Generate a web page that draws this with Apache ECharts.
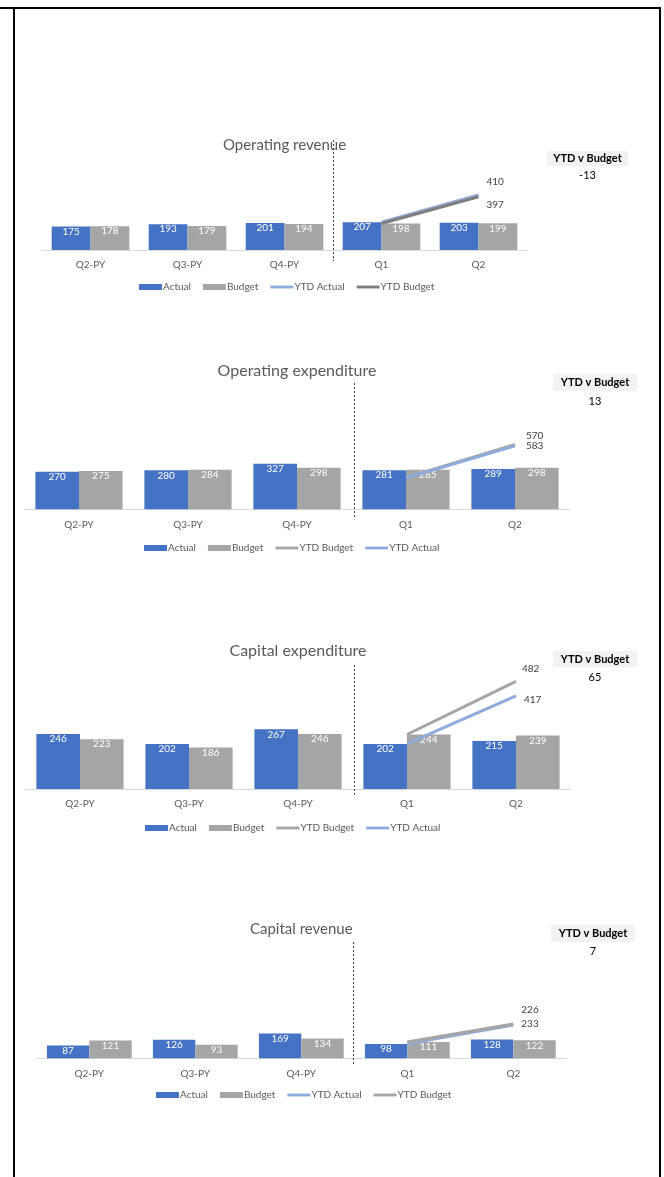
<!DOCTYPE html>
<html>
<head>
<meta charset="utf-8">
<script src="https://cdn.jsdelivr.net/npm/echarts@6/dist/echarts.min.js"></script>
<style>
  html, body { margin: 0; padding: 0; background: #ffffff; }
  #c { width: 664px; height: 1177px; }
</style>
</head>
<body>
<div id="c"></div>
<script>
// ---- data ----
const categories = ['Q2-PY', 'Q3-PY', 'Q4-PY', 'Q1', 'Q2'];

const opRevActual = [175, 193, 201, 207, 203];
const opRevBudget = [178, 179, 194, 198, 199];
const opRevYtdActual = [207, 410];
const opRevYtdBudget = [198, 397];

const opExActual = [270, 280, 327, 281, 289];
const opExBudget = [275, 284, 298, 285, 298];
const opExYtdActual = [281, 570];
const opExYtdBudget = [285, 583];

const capExActual = [246, 202, 267, 202, 215];
const capExBudget = [223, 186, 246, 244, 239];
const capExYtdActual = [202, 417];
const capExYtdBudget = [244, 482];

const capRevActual = [87, 126, 169, 98, 128];
const capRevBudget = [121, 93, 134, 111, 122];
const capRevYtdActual = [98, 226];
const capRevYtdBudget = [111, 233];

// ---- styling ----
const FONT = 'Lato, "Noto Sans", sans-serif';
const BLUE = '#4472c4';
const GREY = '#a5a5a5';
const LIGHT_BLUE = '#8faadc';
const TEXT = '#595959';
const LINE_ICON = 'path://M0,0H24V3H0Z';

const panels = [
  {
    title: 'Operating revenue', titleSize: 15, actual: opRevActual, budget: opRevBudget,
    ytdActual: opRevYtdActual, ytdBudget: opRevYtdBudget,
    order: ['Actual', 'Budget', 'YTD Actual', 'YTD Budget'], ytdBudgetColor: '#7f7f7f',
    grid: { left: 42, width: 485, top: 116, height: 134 }, max: 1000,
    titleY: 145, legendLeft: 139, legendY: 288,
    sep: { dx: -0.5, y1: 140, y2: 261 },
    labelOffset: { 'YTD Actual': [2, -13], 'YTD Budget': [2, 8] },
    box: { x: 547, y: 151, w: 81, h: 15, valueY: 175 }
  },
  {
    title: 'Operating expenditure', titleSize: 16, actual: opExActual, budget: opExBudget,
    ytdActual: opExYtdActual, ytdBudget: opExYtdBudget,
    order: ['Actual', 'Budget', 'YTD Budget', 'YTD Actual'], ytdBudgetColor: GREY,
    grid: { left: 24.5, width: 545, top: 398, height: 111.3 }, max: 800, lineMax: 1000,
    titleY: 371, legendLeft: 144, legendY: 549,
    sep: { dx: 2.5, y1: 383, y2: 517 },
    labelOffset: { 'YTD Actual': [5, -10], 'YTD Budget': [5, 1] },
    box: { x: 553, y: 374, w: 84, h: 17, valueY: 401 }
  },
  {
    title: 'Capital expenditure', titleSize: 16, actual: capExActual, budget: capExBudget,
    ytdActual: capExYtdActual, ytdBudget: capExYtdBudget,
    order: ['Actual', 'Budget', 'YTD Budget', 'YTD Actual'], ytdBudgetColor: GREY,
    grid: { left: 25.5, width: 545, top: 655, height: 134 }, max: 600,
    titleY: 651, legendLeft: 145, legendY: 829,
    sep: { dx: 1.5, y1: 665, y2: 797 },
    labelOffset: { 'YTD Actual': [2, 4], 'YTD Budget': [0, -13] },
    box: { x: 553, y: 651, w: 84, h: 16, valueY: 677 }
  },
  {
    title: 'Capital revenue', titleSize: 15, actual: capRevActual, budget: capRevBudget,
    ytdActual: capRevYtdActual, ytdBudget: capRevYtdBudget,
    order: ['Actual', 'Budget', 'YTD Actual', 'YTD Budget'], ytdBudgetColor: GREY,
    grid: { left: 36.3, width: 530, top: 911.3, height: 147 }, max: 1000,
    titleY: 929, legendLeft: 156, legendY: 1096,
    sep: { dx: -1.5, y1: 942, y2: 1066 },
    labelOffset: { 'YTD Actual': [2, -15], 'YTD Budget': [2, 0] },
    box: { x: 551, y: 925, w: 84, h: 17, valueY: 951 }
  }
];

const chart = echarts.init(document.getElementById('c'), null, { renderer: 'canvas' });

const grids = [], xAxes = [], yAxes = [], series = [], legends = [], graphics = [];

// frame around the page
graphics.push(
  { type: 'line', shape: { x1: 0, y1: 8, x2: 661, y2: 8 }, style: { stroke: '#000', lineWidth: 2 } },
  { type: 'line', shape: { x1: 14, y1: 8, x2: 14, y2: 1177 }, style: { stroke: '#000', lineWidth: 2 } },
  { type: 'line', shape: { x1: 660, y1: 8, x2: 660, y2: 1177 }, style: { stroke: '#000', lineWidth: 2 } }
);

// pad the two year-to-date points onto the Q1/Q2 slots
function ytdData(vals) {
  return new Array(categories.length - vals.length).fill(null).concat(vals);
}

panels.forEach((p, i) => {
  grids.push(Object.assign({ containLabel: false }, p.grid));
  xAxes.push({
    type: 'category', gridIndex: i, data: categories,
    axisLine: { lineStyle: { color: '#d9d9d9', width: 1 } },
    axisTick: { show: false },
    axisLabel: { fontSize: 10, color: TEXT, fontFamily: FONT, margin: 10 }
  });
  const yIdx = yAxes.length;
  yAxes.push({ type: 'value', gridIndex: i, min: 0, max: p.max, show: false });
  let lineY = yIdx;
  if (p.lineMax) {
    lineY = yAxes.length;
    yAxes.push({ type: 'value', gridIndex: i, min: 0, max: p.lineMax, show: false });
  }

  const barLabel = {
    show: true, position: 'insideTop', distance: 0,
    color: '#ffffff', fontSize: 10, fontFamily: FONT
  };
  const defs = {
    'Actual': { type: 'bar', data: p.actual, color: BLUE },
    'Budget': { type: 'bar', data: p.budget, color: GREY },
    'YTD Actual': { type: 'line', data: ytdData(p.ytdActual), color: LIGHT_BLUE },
    'YTD Budget': { type: 'line', data: ytdData(p.ytdBudget), color: p.ytdBudgetColor }
  };
  p.order.forEach((name, k) => {
    const d = defs[name];
    const s = { name: name + '#' + i, type: d.type, xAxisIndex: i, data: d.data, color: d.color };
    if (d.type === 'bar') {
      Object.assign(s, {
        yAxisIndex: yIdx, barGap: '0%', barCategoryGap: '20%',
        itemStyle: { color: d.color }, label: barLabel, z: 2
      });
    } else {
      Object.assign(s, {
        yAxisIndex: lineY, symbol: 'none', showSymbol: false,
        lineStyle: { color: d.color, width: 3 }, itemStyle: { color: d.color },
        z: 3 + k,
        endLabel: {
          show: true, fontSize: 10, fontFamily: FONT, color: '#404040',
          distance: 6, offset: p.labelOffset[name],
          formatter: (q) => String(q.value)
        }
      });
    }
    series.push(s);
  });

  legends.push({
    show: true, selectedMode: false, padding: 0,
    left: p.legendLeft, top: p.legendY - 6,
    itemWidth: 23, itemHeight: 6, itemGap: 12,
    symbolKeepAspect: true,
    textStyle: { fontSize: 10, color: TEXT, fontFamily: FONT, padding: [0, 0, 0, -4] },
    formatter: (n) => n.split('#')[0],
    data: p.order.map(n => ({ name: n + '#' + i, icon: n.indexOf('YTD') === 0 ? LINE_ICON : 'rect' }))
  });

  // panel title, centred over the plot
  graphics.push({
    type: 'text', x: p.grid.left + p.grid.width / 2, y: p.titleY,
    style: { text: p.title, fill: TEXT, fontSize: p.titleSize, fontFamily: FONT, align: 'center', verticalAlign: 'middle' }
  });

  // year-to-date variance box
  const variance = p.ytdBudget[p.ytdBudget.length - 1] - p.ytdActual[p.ytdActual.length - 1];
  const b = p.box;
  graphics.push(
    { type: 'rect', shape: { x: b.x, y: b.y, width: b.w, height: b.h }, style: { fill: '#f2f2f2' } },
    { type: 'text', x: b.x + b.w / 2, y: b.y + b.h / 2,
      style: { text: 'YTD v Budget', fill: '#000', fontSize: 11, fontWeight: 'bold', fontFamily: FONT, align: 'center', verticalAlign: 'middle' } },
    { type: 'text', x: b.x + b.w / 2, y: b.valueY,
      style: { text: String(variance), fill: '#000', fontSize: 11, fontFamily: FONT, align: 'center', verticalAlign: 'middle' } }
  );
});

chart.setOption({
  animation: false,
  backgroundColor: '#ffffff',
  textStyle: { fontFamily: FONT },
  grid: grids, xAxis: xAxes, yAxis: yAxes, legend: legends, series: series,
  graphic: graphics
});

// dotted divider between prior-year and current-year quarters
const dividers = panels.map((p, i) => {
  const a = chart.convertToPixel({ xAxisIndex: i }, categories[2]);
  const c = chart.convertToPixel({ xAxisIndex: i }, categories[3]);
  const x = Math.round((a + c) / 2 + p.sep.dx) + 0.5;
  return {
    type: 'line', shape: { x1: x, y1: p.sep.y1, x2: x, y2: p.sep.y2 },
    style: { stroke: '#404040', lineWidth: 1, lineDash: [2, 2] }, z: 10
  };
});
chart.setOption({ graphic: graphics.concat(dividers) });
</script>
</body>
</html>
